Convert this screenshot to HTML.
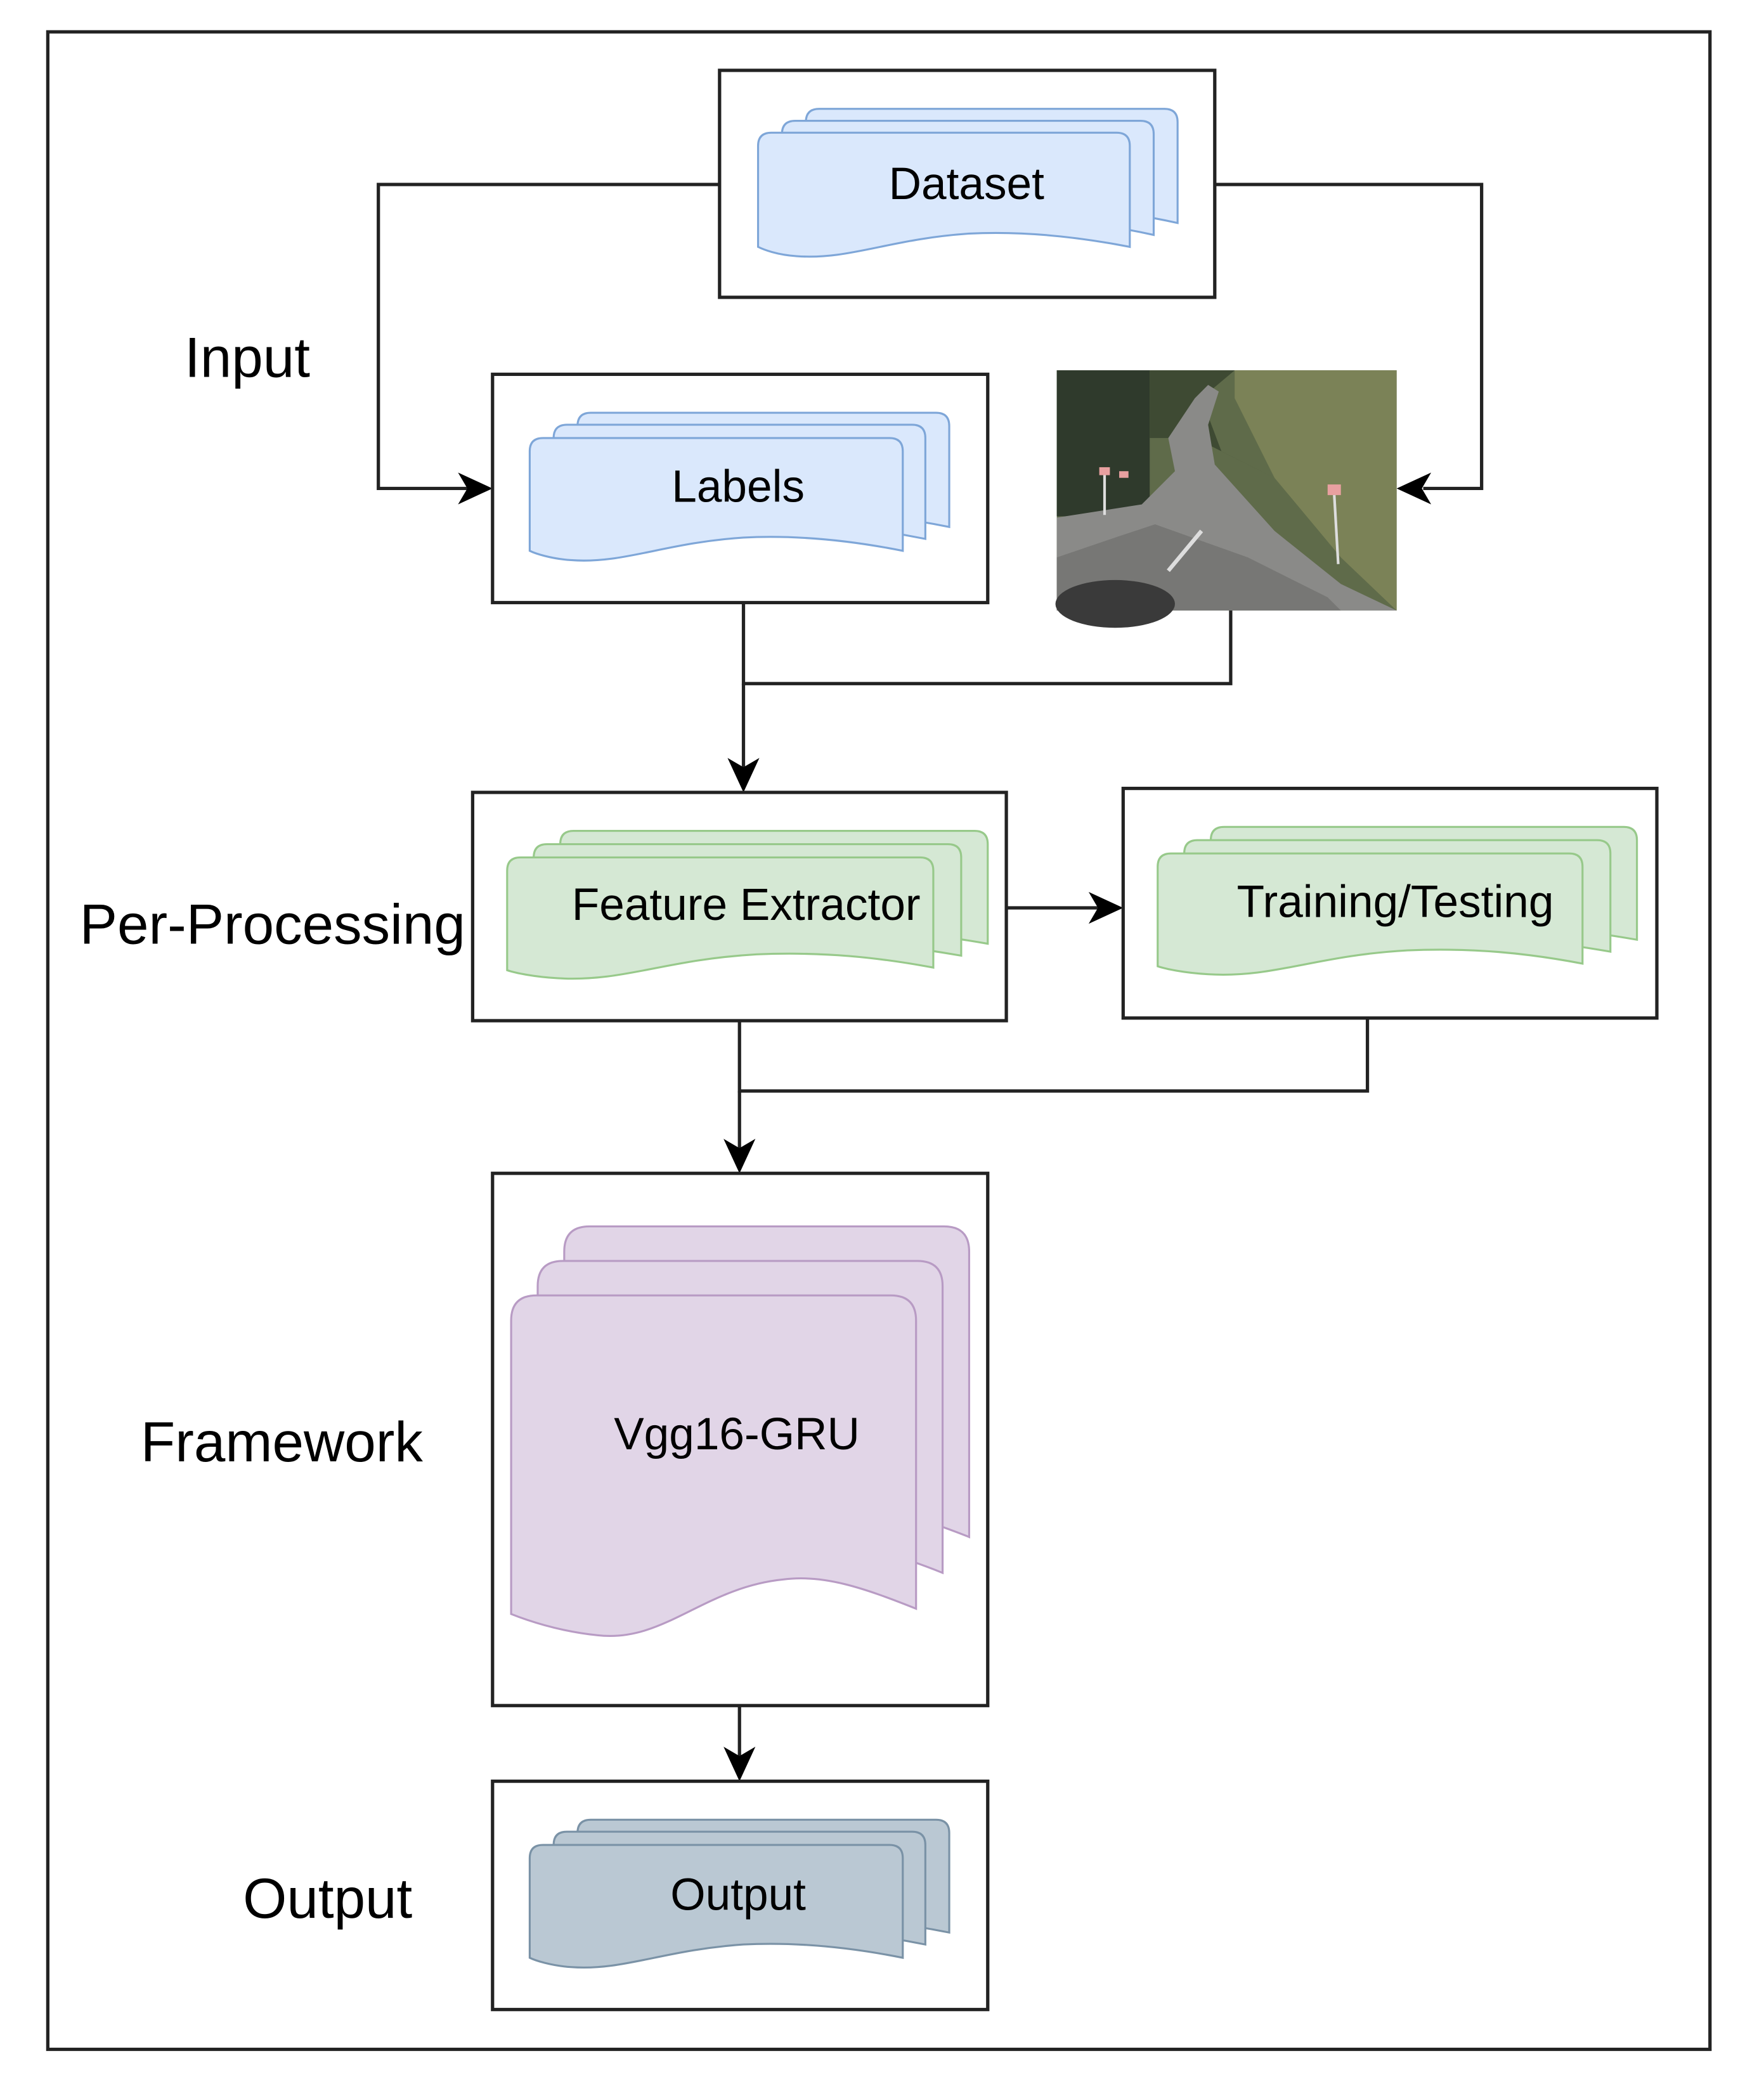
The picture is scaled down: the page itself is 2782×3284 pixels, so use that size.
<!DOCTYPE html>
<html><head><meta charset="utf-8"><style>html,body{margin:0;padding:0;background:#fff}svg{display:block}</style></head>
<body>
<svg width="2782" height="3284" viewBox="0 0 1328.7 1568.6" preserveAspectRatio="none" xmlns="http://www.w3.org/2000/svg" font-family="Liberation Sans, Arial, sans-serif">
<rect x="0" y="0" width="1328.7" height="1568.6" fill="#fff"/>
<!-- outer -->
<rect x="36" y="24" width="1252" height="1520" fill="none" stroke="#222" stroke-width="2.5"/>

<!-- connectors -->
<g stroke="#222" stroke-width="2.5" fill="none">
<polyline points="542,139 285,139 285,368 352,368"/>
<polyline points="915,139 1116,139 1116,368 1072,368"/>
<polyline points="560,454 560,515 927,515 927,460"/>
<line x1="560" y1="515" x2="560" y2="578"/>
<line x1="758" y1="684" x2="827" y2="684"/>
<polyline points="557,769 557,822 1030,822 1030,767"/>
<line x1="557" y1="822" x2="557" y2="865"/>
<line x1="557" y1="1285" x2="557" y2="1323"/>
</g>
<g fill="#000">
<polygon points="371,368 345,356 352,368 345,380"/>
<polygon points="1052,368 1078,356 1071,368 1078,380"/>
<polygon points="560,597 548,571 560,578 572,571"/>
<polygon points="846,684 820,672 827,684 820,696"/>
<polygon points="557,884 545,858 557,865 569,858"/>
<polygon points="557,1342 545,1316 557,1323 569,1316"/>
</g>

<!-- boxes -->
<g fill="#fff" stroke="#222" stroke-width="2.5">
<rect x="542" y="53" width="373" height="171"/>
<rect x="371" y="282" width="373" height="172"/>
<rect x="356" y="597" width="402" height="172"/>
<rect x="846" y="594" width="402" height="173"/>
<rect x="371" y="884" width="373" height="401"/>
<rect x="371" y="1342" width="373" height="172"/>
</g>

<!-- Dataset -->
<g fill="#dae8fc" stroke="#7ea6d8" stroke-width="1.5">
<path d="M607,92 Q607,82 617,82 L877,82 Q887,82 887,92 L887,168 C860,162 800,152 760,156 C700,162 660,180 607,170 Z"/>
<path d="M589,101 Q589,91 599,91 L859,91 Q869,91 869,101 L869,177 C842,171 782,161 742,165 C682,171 642,189 589,179 Z"/>
<path d="M571,110 Q571,100 581,100 L841,100 Q851,100 851,110 L851,186 C810,178 770,174 730,176 C670,180 640,196 600,193 C585,192 575,188 571,186 Z"/>
</g>
<!-- Labels -->
<g fill="#dae8fc" stroke="#7ea6d8" stroke-width="1.5">
<path d="M435,321 Q435,311 445,311 L705,311 Q715,311 715,321 L715,397 C690,392 630,382 590,385 C530,390 490,408 435,400 Z"/>
<path d="M417,330 Q417,320 427,320 L687,320 Q697,320 697,330 L697,406 C672,401 612,391 572,394 C512,399 472,417 417,409 Z"/>
<path d="M399,340 Q399,330 409,330 L670,330 Q680,330 680,340 L680,415 C640,407 600,403 560,405 C500,409 470,425 430,422 C415,421 403,417 399,415 Z"/>
</g>
<!-- Feature -->
<g fill="#d5e8d4" stroke="#97c98a" stroke-width="1.5">
<path d="M422,636 Q422,626 432,626 L734,626 Q744,626 744,636 L744,711 C715,706 650,696 610,699 C540,704 500,722 422,714 Z"/>
<path d="M402,646 Q402,636 412,636 L714,636 Q724,636 724,646 L724,720 C695,715 630,705 590,708 C520,713 480,731 402,723 Z"/>
<path d="M382,656 Q382,646 392,646 L693,646 Q703,646 703,656 L703,729 C660,721 620,717 570,719 C500,723 470,740 420,737 C402,736 388,733 382,731 Z"/>
</g>
<!-- Training -->
<g fill="#d5e8d4" stroke="#97c98a" stroke-width="1.5">
<path d="M912,633 Q912,623 922,623 L1223,623 Q1233,623 1233,633 L1233,708 C1204,703 1139,693 1099,696 C1029,701 989,719 912,711 Z"/>
<path d="M892,643 Q892,633 902,633 L1203,633 Q1213,633 1213,643 L1213,717 C1184,712 1119,702 1079,705 C1009,710 969,728 892,720 Z"/>
<path d="M872,653 Q872,643 882,643 L1182,643 Q1192,643 1192,653 L1192,726 C1150,718 1110,714 1060,716 C990,720 960,737 910,734 C892,733 878,730 872,728 Z"/>
</g>
<!-- Framework -->
<g fill="#e1d5e7" stroke="#b89bc4" stroke-width="1.5">
<path d="M425,943 Q425,924 444,924 L711,924 Q730,924 730,943 L730,1158 C700,1146 660,1132 620,1136 C560,1142 520,1180 425,1165 Z"/>
<path d="M405,969 Q405,950 424,950 L691,950 Q710,950 710,969 L710,1185 C680,1173 640,1159 600,1163 C540,1169 500,1207 405,1192 Z"/>
<path d="M385,995 Q385,976 404,976 L671,976 Q690,976 690,995 L690,1212 C650,1196 620,1186 590,1190 C530,1196 500,1238 450,1232 C420,1229 395,1220 385,1216 Z"/>
</g>
<!-- Output -->
<g fill="#bac8d3" stroke="#7a92a6" stroke-width="1.5">
<path d="M435,1381 Q435,1371 445,1371 L705,1371 Q715,1371 715,1381 L715,1456 C690,1451 630,1441 590,1444 C530,1449 490,1467 435,1459 Z"/>
<path d="M417,1390 Q417,1380 427,1380 L687,1380 Q697,1380 697,1390 L697,1465 C672,1460 612,1450 572,1453 C512,1458 472,1476 417,1468 Z"/>
<path d="M399,1400 Q399,1390 409,1390 L670,1390 Q680,1390 680,1400 L680,1475 C640,1467 600,1463 560,1465 C500,1469 470,1485 430,1482 C415,1481 403,1477 399,1475 Z"/>
</g>

<!-- image -->
<g>
<rect x="796" y="279" width="256" height="181" fill="#5f6b4a"/>
<rect x="796" y="279" width="70" height="110" fill="#2f3a2c"/>
<polygon points="930,279 1052,279 1052,460 1010,420 960,360 930,300" fill="#7b8257"/>
<polygon points="866,279 930,279 905,300 920,340 960,360 900,330 866,330" fill="#3e4a33"/>
<polygon points="796,390 860,380 885,355 880,330 900,300 910,290 918,295 910,320 915,350 960,400 1010,440 1052,460 796,460" fill="#8a8a88"/>
<polygon points="796,420 840,405 870,395 940,420 1000,450 1010,460 796,460" fill="#777775"/>
<ellipse cx="840" cy="455" rx="45" ry="18" fill="#3a3a3a"/>
<line x1="880" y1="430" x2="905" y2="400" stroke="#ddd" stroke-width="3"/>
<rect x="1000" y="365" width="10" height="8" fill="#e8a0a0"/><line x1="1005" y1="373" x2="1008" y2="425" stroke="#ddd" stroke-width="2"/>
<rect x="828" y="352" width="8" height="6" fill="#e8a0a0"/><line x1="832" y1="358" x2="832" y2="388" stroke="#ddd" stroke-width="2"/>
<rect x="843" y="355" width="7" height="5" fill="#e8a0a0"/>
</g>

<!-- doc text -->
<g font-size="34" fill="#000" text-anchor="middle">
<text x="728" y="150">Dataset</text>
<text x="556" y="378">Labels</text>
<text x="562" y="693">Feature Extractor</text>
<text x="1051" y="691">Training/Testing</text>
<text x="555" y="1092">Vgg16-GRU</text>
<text x="556" y="1439">Output</text>
</g>
<!-- side labels -->
<g font-size="42.5" fill="#000">
<text x="139" y="284">Input</text>
<text x="60" y="711">Per-Processing</text>
<text x="106" y="1101">Framework</text>
<text x="183" y="1445">Output</text>
</g>
</svg>
</body></html>
